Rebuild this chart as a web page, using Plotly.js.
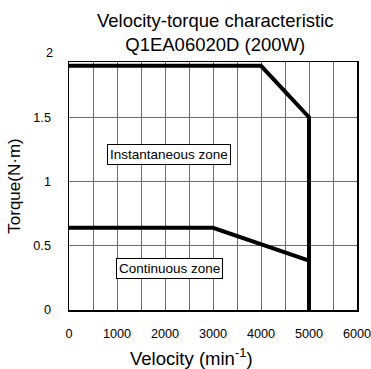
<!DOCTYPE html>
<html>
<head>
<meta charset="utf-8">
<script src="https://cdn.plot.ly/plotly-3.0.1.min.js"></script>
<style>html,body{margin:0;padding:0;background:#fff;}#chart{width:371px;height:369px;}</style>
</head>
<body>
<div id="chart"></div>
<script>
// Data
const instSpeed = [0, 4000, 5000, 5000];
const instTorque = [1.9, 1.9, 1.5, 0];
const contSpeed = [0, 3000, 5000];
const contTorque = [0.64, 0.64, 0.385];
const zoneLabels = ['Instantaneous zone', 'Continuous zone'];
const zoneX = [2075, 2085];
const zoneY = [1.21, 0.323];
const yRange = [0, 1.93];
const topTickValue = 2;

const FONT = 'Arial, "Liberation Sans", sans-serif';

const traces = [
  {x: instSpeed, y: instTorque, mode: 'lines', line: {color: '#000', width: 4}, hoverinfo: 'skip'},
  {x: contSpeed, y: contTorque, mode: 'lines', line: {color: '#000', width: 4}, hoverinfo: 'skip'}
];

const annotations = zoneLabels.map((t, i) => ({
  x: zoneX[i], y: zoneY[i], xref: 'x', yref: 'y', text: t, showarrow: false,
  font: {family: FONT, size: 13.5, color: '#000'},
  bgcolor: '#fff', bordercolor: '#000', borderwidth: 1, borderpad: 2
}));
// Top tick label "2" sits just above the frame
annotations.push({x: 0, y: topTickValue / yRange[1], xref: 'paper', yref: 'paper', text: String(topTickValue), showarrow: false,
  xanchor: 'right', yanchor: 'middle', xshift: -14, font: {family: FONT, size: 12.7, color: '#000'}});
// Title
annotations.push({x: 0.51, y: 1, xref: 'paper', yref: 'paper', xanchor: 'center', yanchor: 'bottom', yshift: 5,
  text: 'Velocity-torque characteristic<br>Q1EA06020D (200W)', showarrow: false,
  font: {family: FONT, size: 18.5, color: '#000'}});
// X-axis title
annotations.push({x: 0.427, y: 0, xref: 'paper', yref: 'paper', xanchor: 'center', yanchor: 'top', yshift: -33,
  text: 'Velocity (min<sup>-1</sup>)', showarrow: false, font: {family: FONT, size: 18.5, color: '#000'}});

const layout = {
  width: 371, height: 369,
  margin: {l: 69, r: 14, t: 62, b: 59},
  paper_bgcolor: '#fff', plot_bgcolor: '#fff',
  showlegend: false,
  font: {family: FONT, color: '#000'},
  xaxis: {range: [0, 6000], tickmode: 'linear', tick0: 0, dtick: 1000,
    showgrid: true, gridcolor: '#6e6e6e', gridwidth: 1,
    minor: {tickmode: 'linear', tick0: 0, dtick: 500, showgrid: true, gridcolor: '#6e6e6e', gridwidth: 1},
    showline: true, linecolor: '#000', linewidth: 1.5, mirror: true, zeroline: false,
    ticks: '', ticklabelstandoff: 11, ticklabeloverflow: 'allow', tickfont: {family: FONT, size: 12.7}, fixedrange: true},
  yaxis: {range: yRange, tickmode: 'linear', tick0: 0, dtick: 0.5,
    showgrid: true, gridcolor: '#6e6e6e', gridwidth: 1,
    showline: true, linecolor: '#000', linewidth: 1.5, mirror: true, zeroline: false,
    ticks: '', ticklabelstandoff: 14, tickfont: {family: FONT, size: 12.7},
    title: {text: 'Torque(N·m)', font: {family: FONT, size: 17}, standoff: 8}, fixedrange: true},
  annotations: annotations
};

Plotly.newPlot('chart', traces, layout, {staticPlot: true, displayModeBar: false});
</script>
</body>
</html>
